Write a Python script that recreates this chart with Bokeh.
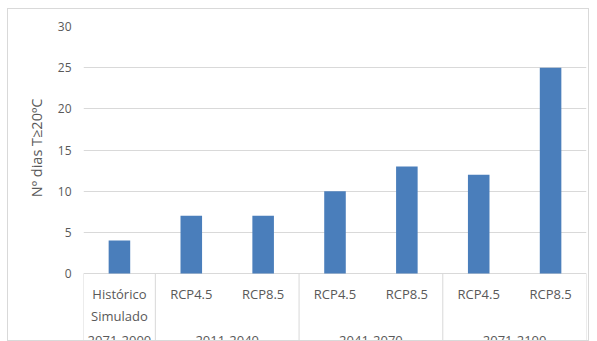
from bokeh.plotting import figure
from bokeh.models import FactorRange, Range1d, ColumnDataSource, FixedTicker, Title
from bokeh.core.properties import value
from bokeh.embed import file_html
from bokeh.resources import INLINE

# ---- data ----
periods = ["2071-2000", "2011-2040", "2011-2040", "2041-2070", "2041-2070", "2071-2100", "2071-2100"]
scenarios = ["Histórico\nSimulado", "RCP4.5", "RCP8.5", "RCP4.5", "RCP8.5", "RCP4.5", "RCP8.5"]
dias = [4, 7, 7, 10, 13, 12, 25]
y_ticks = [0, 5, 10, 15, 20, 25, 30]
y_title = "Nº dias T≥20ºC"

# ---- layout constants ----
FONT = "Open Sans"
GRAY = "#595959"
LINE = "#d9d9d9"
PLOT_H = 247           # px for 0..30
BELOW = 69             # px of category area below zero
ymax = 30
px_per_unit = PLOT_H / ymax
ymin = -BELOW / px_per_unit

factors = list(zip(periods, scenarios))
group_names = list(dict.fromkeys(periods))

p = figure(
    x_range=FactorRange(*factors, range_padding=0, group_padding=0, factor_padding=0),
    y_range=Range1d(ymin, ymax),
    width=582, height=333,
    output_backend="svg", toolbar_location=None,
    x_axis_location=None,
    min_border_left=75, min_border_right=4, min_border_top=17, min_border_bottom=0,
)
p.styles = {"border": "1px solid #d9d9d9", "margin-left": "7px", "margin-top": "8px"}
p.outline_line_color = None

# bars
src = ColumnDataSource(dict(x=factors, top=dias))
p.vbar(x="x", top="top", width=0.3, source=src, color="#4A7EBB", line_color=None)

# grid / y axis
p.xgrid.grid_line_color = None
p.ygrid.grid_line_color = LINE
p.ygrid.ticker = FixedTicker(ticks=y_ticks)
p.yaxis.ticker = FixedTicker(ticks=y_ticks)
p.yaxis.axis_line_color = None
p.yaxis.major_tick_line_color = None
p.yaxis.minor_tick_line_color = None
p.yaxis.major_tick_out = 0
p.yaxis.major_label_standoff = 12
p.yaxis.major_label_text_font = FONT
p.yaxis.major_label_text_font_size = "12px"
p.yaxis.major_label_text_color = GRAY

# y title (aligned to the 0..30 part of the frame)
p.add_layout(Title(text=y_title, align="right", offset=72, vertical_align="bottom",
                   standoff=18, text_font=FONT, text_font_size="14.5px",
                   text_font_style="normal", text_color=GRAY), "left")

# category separators (group boundaries, derived from the periods list)
bounds = [0]
for i in range(1, len(periods)):
    if periods[i] != periods[i - 1]:
        bounds.append(i)
bounds.append(len(periods))
p.segment(x0=bounds, x1=bounds, y0=[0] * len(bounds), y1=[ymin] * len(bounds),
          line_color=LINE, line_width=1)

# sub-category labels
sub_y = -11 / px_per_unit
p.text(x=factors, y=[sub_y] * len(factors), text=scenarios,
       text_font=value(FONT), text_font_size="13px", text_color=GRAY,
       text_align="center", text_baseline="top", text_line_height=1.25)

# group labels
grp_y = -62 / px_per_unit
p.text(x=group_names, y=[grp_y] * len(group_names), text=group_names,
       text_font=value(FONT), text_font_size="13px", text_color=GRAY,
       text_align="center", text_baseline="top")

open("out.html", "w").write(file_html(p, INLINE))
